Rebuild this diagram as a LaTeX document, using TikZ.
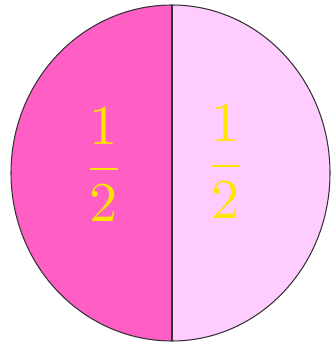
\documentclass[tikz,border=0pt]{standalone}
\usepackage{graphicx}
\usepackage{tikz}
\usetikzlibrary{positioning, calc}

\definecolor{darkpink}{RGB}{255,94,196}
\definecolor{lightpink}{RGB}{255,204,255}
\definecolor{fracyellow}{RGB}{255,228,0}

\newcommand{\halffrac}{\scalebox{3.2}{$\displaystyle\frac{1}{2}$}}

\begin{document}
\begin{tikzpicture}[
  half/.style={draw=black!80, line width=0.6pt},
  frac/.style={text=fracyellow, inner sep=0pt}
]
\useasboundingbox (0,0) rectangle (6.66,6.9);

\coordinate (centre) at (3.44,3.44);
\coordinate (top) at (3.44,6.80);
\coordinate (bottom) at (3.44,0.08);

% two halves of the disc
\fill[darkpink] (top) arc[start angle=90, end angle=270, x radius=3.22cm, y radius=3.36cm] -- cycle;
\fill[lightpink] (top) arc[start angle=90, end angle=-90, x radius=3.16cm, y radius=3.36cm] -- cycle;
\draw[half] (top) arc[start angle=90, end angle=270, x radius=3.22cm, y radius=3.36cm];
\draw[half] (top) arc[start angle=90, end angle=-90, x radius=3.16cm, y radius=3.36cm];
\draw[half] (top) -- (bottom);

% labels
\node[frac] (lefthalf) at (2.08,3.60) {\halffrac};
\node[frac] (righthalf) at (4.52,3.66) {\halffrac};

\end{tikzpicture}
\end{document}
